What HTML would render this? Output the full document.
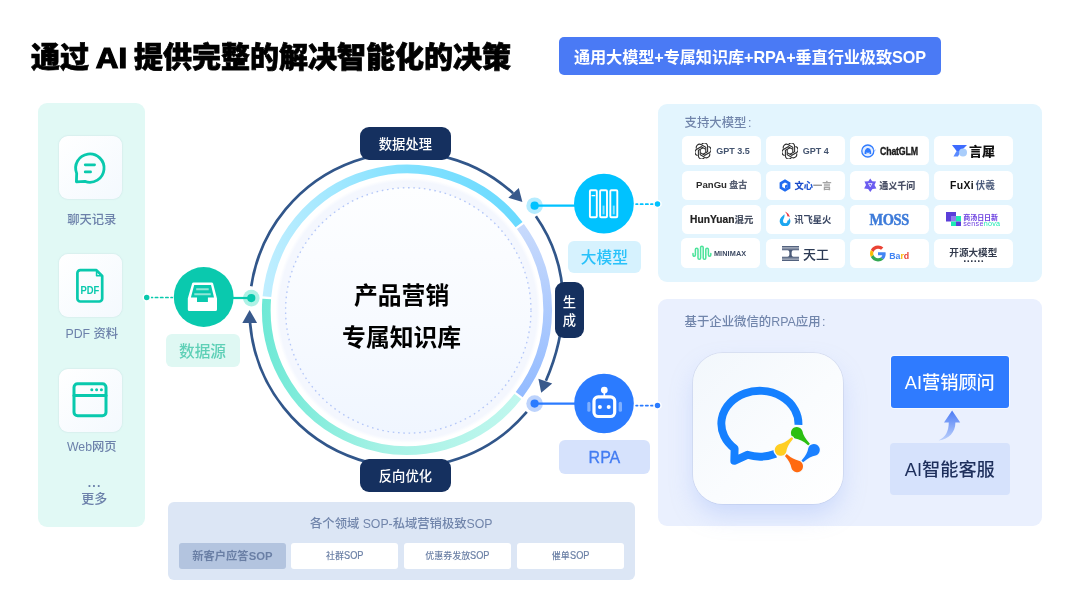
<!DOCTYPE html>
<html lang="zh-CN">
<head>
<meta charset="utf-8">
<title>通过 AI 提供完整的解决智能化的决策</title>
<style>
html,body{margin:0;padding:0;background:#fff;}
body{width:1080px;height:608px;position:relative;overflow:hidden;font-family:"Liberation Sans","Noto Sans CJK SC",sans-serif;color:#000;}
#stage{position:absolute;left:0;top:0;width:1080px;height:608px;overflow:hidden;background:#fff;will-change:transform;}
.abs{position:absolute;}
.c{display:flex;align-items:center;justify-content:center;white-space:nowrap;}
#title{left:31px;top:36.3px;height:44px;line-height:44px;font-size:29px;font-weight:900;white-space:nowrap;letter-spacing:0;-webkit-text-stroke:.75px #000;}
#pill{left:558.8px;top:37px;width:382.2px;height:38.1px;border-radius:5px;background:#4a7af5;color:#fff;font-size:16.2px;letter-spacing:-.1px;font-weight:700;padding-top:.6px;box-sizing:border-box;}
.panel{border-radius:9px;}
#left{left:37.8px;top:103.1px;width:107.2px;height:423.8px;background:#e1f9f5;}
.icard{left:58.7px;width:63.2px;height:63.4px;border-radius:9px;background:linear-gradient(135deg,#ffffff 0%,#f4f9fe 100%);box-shadow:0 0 1.5px rgba(120,140,170,.35);}
.ilab{left:38.5px;width:106.5px;height:16px;line-height:16px;text-align:center;font-size:12.3px;font-weight:500;color:#6c81aa;white-space:nowrap;}
#models{left:658.3px;top:103.7px;width:383.6px;height:178px;background:#e3f5fe;}
#rpa{left:658.3px;top:299px;width:383.6px;height:227.3px;background:#eaf0fe;}
.plab{font-size:12.4px;font-weight:500;color:#7185ab;height:18px;line-height:18px;white-space:nowrap;}
.mc{width:78.8px;height:29.4px;border-radius:5.5px;background:#fff;font-size:9px;font-weight:700;color:#333;}
#sop{left:168px;top:502px;width:466.5px;height:78px;border-radius:6px;background:#dce6f5;}
.sc{top:543px;width:106.7px;height:26px;padding-bottom:1.4px;box-sizing:border-box;border-radius:3px;background:#fff;font-size:9px;font-weight:500;color:#6a7fa5;}
.navy{background:#15305f;color:#fff;font-size:13.3px;border-radius:9px;font-weight:500;}
.tag{border-radius:6px;font-size:15.7px;font-weight:500;}
</style>
</head>
<body>
<div id="stage">
<div id="title" class="abs">通过 <span style="display:inline-block;transform:scaleX(1.08);-webkit-text-stroke:1.2px #000">AI</span> 提供完整的解决智能化的决策</div>
<div id="pill" class="abs c">通用大模型+专属知识库+RPA+垂直行业极致SOP</div>

<!-- left panel -->
<div id="left" class="abs panel"></div>
<div class="abs icard" style="top:135.6px"></div>
<div class="abs ilab" style="top:211.8px">聊天记录</div>
<div class="abs icard" style="top:253.6px"></div>
<div class="abs ilab" style="top:325.5px">PDF 资料</div>
<div class="abs icard" style="top:368.6px"></div>
<div class="abs ilab" style="top:438.7px">Web网页</div>
<div class="abs ilab" style="top:474.6px;left:41.4px;letter-spacing:1.2px;font-weight:700">...</div>
<div class="abs ilab" style="top:491px;left:40.9px;font-size:13px">更多</div>

<!-- models panel -->
<div id="models" class="abs panel"></div>
<div class="abs plab" style="left:684.5px;top:113.5px">支持大模型<span style="margin-left:1.5px">:</span></div>

<!-- model cards -->
<div class="abs c mc" style="left:682.3px;top:136.0px"><svg width="16" height="16" viewBox="-8 -8 16 16"><g fill="none" stroke="#2b2b2b" stroke-width="1.05"><g id="oa"><path d="M-1.2 -6.9 A3.3 3.3 0 0 1 4.6 -5 L4.6 0.6 L0 3.2"/></g><use href="#oa" transform="rotate(60)"/><use href="#oa" transform="rotate(120)"/><use href="#oa" transform="rotate(180)"/><use href="#oa" transform="rotate(240)"/><use href="#oa" transform="rotate(300)"/></g></svg><span style="margin-left:5px;margin-right:-1.5px;color:#44546f;font-size:9px">GPT 3.5</span></div>
<div class="abs c mc" style="left:766.1px;top:136.0px"><svg width="16" height="16" viewBox="-8 -8 16 16"><g fill="none" stroke="#2b2b2b" stroke-width="1.05"><g id="ob"><path d="M-1.2 -6.9 A3.3 3.3 0 0 1 4.6 -5 L4.6 0.6 L0 3.2"/></g><use href="#ob" transform="rotate(60)"/><use href="#ob" transform="rotate(120)"/><use href="#ob" transform="rotate(180)"/><use href="#ob" transform="rotate(240)"/><use href="#ob" transform="rotate(300)"/></g></svg><span style="margin-left:4.5px;color:#44546f;font-size:9px">GPT 4</span></div>
<div class="abs c mc" style="left:850.3px;top:136.0px"><svg width="15" height="14" viewBox="0 0 15 14" style="margin-left:-1px;margin-top:.6px"><circle cx="6.8" cy="7" r="6" fill="#e3edff" stroke="#2f7bff" stroke-width="1.3"/><path d="M3.6 10 C3.4 6.4 4.8 4 7 4 C9.2 4 10.4 6 10.2 10 H8.6 L8.2 8 L7 9.4 L5.8 8 L5.4 10 Z" fill="#2f7bff"/><path d="M12.6 5.6 l.9 1.5 l1-1.5" fill="none" stroke="#8fb6ff" stroke-width="0.8"/></svg><span style="margin-left:4px;margin-top:1.6px;color:#1d1d1d;font-size:10px;letter-spacing:-0.2px;-webkit-text-stroke:.35px #1d1d1d;transform:scaleX(.88);transform-origin:left center;display:inline-block;margin-right:-5px">ChatGLM</span></div>
<div class="abs c mc" style="left:933.9px;top:136.0px"><svg width="16" height="12" viewBox="0 0 16 12"><path d="M0 0 H15 L9 6 L4.6 6 Z" fill="#3d6bff"/><path d="M4.6 6 L9 6 L6 11.5 H1.5 Z" fill="#5b8bff"/><circle cx="11" cy="7.6" r="4" fill="#a9cdfb"/></svg><span style="margin-left:1.5px;margin-top:-1.4px;color:#111;font-size:13px;font-weight:900">言犀</span></div>
<div class="abs c mc" style="left:682.3px;top:170.5px"><span style="color:#2b2b2b;font-size:9.6px;margin-top:-1.4px">PanGu</span><span style="margin-left:2.4px;margin-top:-1.4px;color:#5a6275;font-size:9px;font-weight:900">盘古</span></div>
<div class="abs c mc" style="left:766.1px;top:170.5px"><svg width="12" height="13" viewBox="0 0 12 13"><path d="M6 0.3 L11.4 3.4 V9.6 L6 12.7 L0.6 9.6 V3.4 Z" fill="#1f6bf0"/><path d="M6 3.4 L8.8 5 V8 L6 9.6 L3.2 8 V5 Z" fill="#fff"/><path d="M6 6.5 L8.8 5 V8 L6 9.6 Z" fill="#1f6bf0"/></svg><span style="margin-left:3px;font-size:9.3px;font-weight:900;background:linear-gradient(90deg,#1746c4 0%,#1f57d6 48%,#9a9a9a 52%,#a8a8a8 100%);-webkit-background-clip:text;background-clip:text;color:transparent">文心一言</span></div>
<div class="abs c mc" style="left:850.3px;top:170.5px"><svg width="14.5" height="14.5" viewBox="0 0 13 13" style="margin-left:-1.5px"><path d="M6.5 0.5 L8.2 3 L11.7 3.2 L10.3 6.3 L12 9.4 L8.5 9.8 L6.5 12.5 L4.6 9.8 L1 9.4 L2.7 6.3 L1.3 3.2 L4.8 3 Z" fill="#6b5cf0"/><path d="M4.4 4.6 H8.6 L6.5 8.4 Z" fill="#fff"/><path d="M5.5 5.3 H7.5 L6.5 7.1 Z" fill="#6b5cf0"/></svg><span style="margin-left:2px;color:#4a5066;font-size:9px;font-weight:900">通义千问</span></div>
<div class="abs c mc" style="left:933.9px;top:170.5px"><span style="color:#111;font-size:10.4px;letter-spacing:.35px;margin-left:-1.5px">FuXi</span><span style="margin-left:1.6px;color:#4a5a7a;font-size:9.7px;font-weight:700">伏羲</span></div>
<div class="abs c mc" style="left:682.3px;top:204.6px"><span style="color:#222;font-size:10.2px;letter-spacing:.05px;-webkit-text-stroke:.2px #222">HunYuan</span><span style="color:#4d5566;font-size:9.4px;font-weight:900">混元</span></div>
<div class="abs c mc" style="left:766.1px;top:204.6px"><svg width="12.5" height="15.5" viewBox="0 0 12 15" style="margin-top:-1.5px;margin-left:-1px"><path d="M5.2 3.2 C2.6 5.4 0.6 7.4 0.6 9.8 A5.2 5.2 0 0 0 11 9.8 C11 8.6 10.6 7.8 9.6 6.8 C9.8 8.6 8.8 9.6 7.8 9.4 C8.4 10.6 7.6 11.8 6 11.8 A2.2 2.2 0 0 1 3.8 9.6 C3.8 7.6 5.8 6.4 5.2 3.2 Z" fill="#1ca6f0"/><path d="M5.6 0.4 C8.2 1.4 10.4 3.6 10.2 6 C9.4 5.2 8.6 5 8 5.4 C8.2 3.6 7.2 1.8 5.6 0.4 Z" fill="#e8333c"/></svg><span style="margin-left:3px;color:#3a4763;font-size:9.3px;font-weight:700">讯飞星火</span></div>
<div class="abs c mc" style="left:850.3px;top:204.6px"><span style="color:#3d7bd9;font-size:15.5px;font-weight:700;letter-spacing:-.4px;font-family:'Liberation Serif','Liberation Sans',serif;-webkit-text-stroke:.5px #3d7bd9;transform:scale(.93,1.04);display:inline-block;margin-top:2px;margin-left:-1.4px">MOSS</span></div>
<div class="abs c mc" style="left:933.9px;top:204.6px"><svg width="15" height="14" viewBox="0 0 15 14"><path d="M0 0 H10 V4 H5 V9.5 H0 Z" fill="#5b3fd9"/><rect x="5" y="4" width="5" height="5.5" fill="#8f7df0"/><rect x="10" y="4" width="5" height="5.5" fill="#1eebb4"/><rect x="5" y="9.5" width="5" height="4.5" fill="#1eebb4"/><rect x="10" y="9.5" width="5" height="4.5" fill="#5b3fd9"/></svg><span style="margin-left:2px;margin-top:3.6px;display:inline-flex;flex-direction:column;line-height:6.4px;font-weight:400"><span style="color:#6a3fe0;font-size:7px;font-weight:700;letter-spacing:-.05px">商汤日日新</span><span style="color:#6a3fe0;font-size:7.2px;letter-spacing:.25px;margin-top:.3px">sense<span style="color:#1eebb4">nova</span></span></span></div>
<div class="abs c mc" style="left:681.4px;top:238px;height:30px"><svg width="20" height="16" viewBox="0 0 20 16"><g fill="none" stroke="#4be39a" stroke-width="1.5" stroke-linecap="round" stroke-linejoin="round"><path d="M1 8.5 V10 a1.2 1.2 0 0 0 2.4 0 V4.5 a1.3 1.3 0 0 1 2.6 0 V13 a1.3 1.3 0 0 0 2.6 0 V2.6 a1.3 1.3 0 0 1 2.6 0 V13 a1.3 1.3 0 0 0 2.6 0 V4.5 a1.3 1.3 0 0 1 2.6 0 V10 a1.2 1.2 0 0 0 2.4 0 V8.5"/></g></svg><span style="margin-left:2px;margin-right:3.4px;color:#3d4a63;font-size:7.3px;letter-spacing:.1px">MINIMAX</span></div>
<div class="abs c mc" style="left:766.1px;top:238.7px"><svg width="17" height="15" viewBox="0 0 17 15"><g fill="#4a5a78"><path d="M0 0 H17 V4.2 H11.5 C10 4.2 9.6 5.4 9.6 7.5 C9.6 9.6 10 10.8 11.5 10.8 H17 V15 H0 V10.8 H5.5 C7 10.8 7.4 9.6 7.4 7.5 C7.4 5.4 7 4.2 5.5 4.2 H0 Z"/></g><g stroke="#fff" stroke-width=".5" fill="none"><path d="M0 1.4 H17 M0 2.8 H17 M0 12.2 H17 M0 13.6 H17"/></g></svg><span style="margin-left:4px;color:#2d3b55;font-size:13px;font-weight:500">天工</span></div>
<div class="abs c mc" style="left:850.3px;top:238.7px"><svg width="16" height="17" viewBox="0 0 48 48"><path fill="#ea4335" d="M24 9.5c3.54 0 6.71 1.22 9.21 3.6l6.85-6.85C35.9 2.38 30.47 0 24 0 14.62 0 6.51 5.38 2.56 13.22l7.98 6.19C12.43 13.72 17.74 9.5 24 9.5z"/><path fill="#4285f4" d="M46.98 24.55c0-1.57-.15-3.09-.38-4.55H24v9.02h12.94c-.58 2.96-2.26 5.48-4.78 7.18l7.73 6c4.51-4.18 7.09-10.36 7.09-17.65z"/><path fill="#fbbc05" d="M10.53 28.59c-.48-1.45-.76-2.99-.76-4.59s.27-3.14.76-4.59l-7.98-6.19C.92 16.46 0 20.12 0 24c0 3.88.92 7.54 2.56 10.78l7.97-6.19z"/><path fill="#34a853" d="M24 48c6.48 0 11.93-2.13 15.89-5.81l-7.73-6c-2.15 1.45-4.92 2.3-8.16 2.3-6.26 0-11.57-4.22-13.47-9.91l-7.98 6.19C6.51 42.62 14.62 48 24 48z"/></svg><span style="margin-left:3px;font-size:8.8px;margin-top:5px"><span style="color:#4285f4">B</span><span style="color:#4285f4">a</span><span style="color:#fbbc05">r</span><span style="color:#ea4335">d</span></span></div>
<div class="abs c mc" style="left:933.9px;top:238.7px"><span style="display:inline-flex;flex-direction:column;align-items:center;line-height:11px;margin-top:1.6px"><span style="color:#333b4d;font-size:9.6px">开源大模型</span><span style="color:#333b4d;font-size:11px;line-height:5px;height:5px;letter-spacing:.45px;margin-top:-2.6px;margin-left:1px;font-weight:700">......</span></span></div>

<!-- rpa panel -->
<div id="rpa" class="abs panel"></div>
<div class="abs plab" style="left:684.5px;top:312.5px">基于企业微信的RPA应用<span style="margin-left:1.5px">:</span></div>
<div class="abs" id="wecom" style="left:692.8px;top:352.5px;width:150.6px;height:151.2px;border-radius:30px;background:linear-gradient(135deg,#f2f7fc 0%,#fafcfe 55%,#ffffff 100%);box-shadow:0 12px 24px -2px rgba(140,170,245,.34),0 0 0 .8px rgba(150,160,180,.22);"></div>
<div class="abs c" style="left:891px;top:356.3px;width:117.6px;height:51.5px;border-radius:3px;background:#2f7bff;color:#fff;font-size:18.2px;font-weight:500;padding-bottom:1.6px;box-sizing:border-box;box-shadow:0 0 0 1px rgba(255,255,255,.6)">AI营销顾问</div>
<div class="abs c" style="left:890px;top:442.6px;width:119.6px;height:52px;border-radius:4px;background:#d6e2fc;color:#1e2f5c;font-size:18.2px;font-weight:500;padding-bottom:1.6px;box-sizing:border-box;">AI智能客服</div>

<!-- sop panel -->
<div id="sop" class="abs"></div>
<div class="abs plab" style="left:168px;width:466.5px;top:515.4px;text-align:center;font-size:12.3px">各个领域 SOP-私域营销极致SOP</div>
<div class="abs c sc" style="left:179px;background:#b3c4df;font-weight:700;font-size:11.3px;color:#6a7fa5">新客户应答SOP</div>
<div class="abs c sc" style="left:291.4px">社群<span style="display:inline-block;font-size:10px;line-height:10px;transform:scaleX(.92);transform-origin:left center;margin-right:-1.7px;margin-top:1.4px;-webkit-text-stroke:.2px #6a7fa5">SOP</span></div>
<div class="abs c sc" style="left:404.1px">优惠券发放<span style="display:inline-block;font-size:10px;line-height:10px;transform:scaleX(.92);transform-origin:left center;margin-right:-1.7px;margin-top:1.4px;-webkit-text-stroke:.2px #6a7fa5">SOP</span></div>
<div class="abs c sc" style="left:517.1px">催单<span style="display:inline-block;font-size:10px;line-height:10px;transform:scaleX(.92);transform-origin:left center;margin-right:-1.7px;margin-top:1.4px;-webkit-text-stroke:.2px #6a7fa5">SOP</span></div>

<!-- diagram -->
<svg class="abs" style="left:0;top:0" width="1080" height="608" viewBox="0 0 1080 608">
  <defs>
    <linearGradient id="gC" gradientUnits="userSpaceOnUse" x1="262" y1="0" x2="520" y2="0"><stop offset="0" stop-color="#c0eeff"/><stop offset="0.56" stop-color="#82e1ff"/><stop offset="1" stop-color="#6adaff"/></linearGradient>
    <linearGradient id="gB" gradientUnits="userSpaceOnUse" x1="0" y1="225" x2="0" y2="396"><stop offset="0" stop-color="#c8dafc"/><stop offset="1" stop-color="#93bbff"/></linearGradient>
    <linearGradient id="gT" gradientUnits="userSpaceOnUse" x1="262" y1="0" x2="520" y2="0"><stop offset="0" stop-color="#6fe9d6"/><stop offset="0.5" stop-color="#a8f2e6"/><stop offset="1" stop-color="#c0f7ee"/></linearGradient>
    <radialGradient id="gDisc" gradientUnits="userSpaceOnUse" cx="408" cy="310.3" r="132.6"><stop offset="0" stop-color="#f4f7fe"/><stop offset="0.972" stop-color="#f4f7fe"/><stop offset="1" stop-color="#f4f7fe" stop-opacity="0"/></radialGradient>
    <linearGradient id="gIn" gradientUnits="userSpaceOnUse" x1="0" y1="188" x2="0" y2="433"><stop offset="0" stop-color="#fdfeff"/><stop offset="0.55" stop-color="#f7faff"/><stop offset="1" stop-color="#f0f6ff"/></linearGradient>
  </defs>
  <circle cx="408" cy="310.3" r="132.6" fill="url(#gDisc)"/>
  <circle cx="408.3" cy="310.4" r="122.7" fill="url(#gIn)" stroke="#b4c7f8" stroke-width="1.35" stroke-dasharray="1.6 3.7"/>
  <g fill="none" stroke-width="8.7">
    <path d="M266.92 296.56 A140.70 140.70 0 0 1 519.07 224.73" stroke="url(#gC)"/>
    <path d="M520.39 226.50 A140.70 140.70 0 0 1 519.22 394.67" stroke="url(#gB)"/>
    <path d="M517.87 396.42 A140.70 140.70 0 0 1 266.71 299.01" stroke="url(#gT)"/>
  </g>
  <g fill="none" stroke="#31568a" stroke-width="2.7">
    <path d="M251.26 286.21 A157.50 157.50 0 0 1 513.12 193.32"/>
    <path d="M535.9 216.3 C576.85 274.95 563.92 339.28 545.9 380.7"/>
    <path d="M526.80 411.94 A157.50 157.50 0 0 1 250.05 322.87"/>
  </g>
  <g fill="#38598c">
    <polygon points="522.4,201.9 518.8,188 508.3,197.8"/>
    <polygon points="541.2,392.8 538.4,378.7 552.2,383.4"/>
    <polygon points="249.6,310 242.3,322.9 257.1,322.9"/>
  </g>
  <!-- connectors -->
  <g stroke-width="2.2" fill="none">
    <line x1="172.3" y1="297.5" x2="151.5" y2="297.5" stroke="#09c9ad" stroke-width="1.7" stroke-linecap="round" stroke-dasharray="2.3 2.9" stroke-dashoffset="1"/>
    <line x1="653.2" y1="204.2" x2="636.1" y2="204.2" stroke="#00c2ff" stroke-width="1.7" stroke-linecap="round" stroke-dasharray="2.3 2.9"/>
    <line x1="653.2" y1="405.6" x2="636.1" y2="405.6" stroke="#2b7bff" stroke-width="1.7" stroke-linecap="round" stroke-dasharray="2.3 2.9"/>
  </g>
  <circle cx="146.7" cy="297.6" r="3.5" fill="#09c9ad" stroke="#fff" stroke-width="1.5"/>
  <circle cx="657.5" cy="204.1" r="3.5" fill="#00c2ff" stroke="#fff" stroke-width="1.5"/>
  <circle cx="657.5" cy="405.4" r="3.5" fill="#2b7bff" stroke="#fff" stroke-width="1.5"/>
  <!-- nodes -->
  <circle cx="251.3" cy="298.1" r="8.3" fill="#aef2e6"/><line x1="251.3" y1="298" x2="232" y2="298" stroke="#09c9ad" stroke-width="2.2"/><circle cx="251.3" cy="298.1" r="4.1" fill="#09c9ad"/>
  <circle cx="534.6" cy="205.7" r="8.3" fill="#b5ecff"/><line x1="534.6" y1="205.7" x2="576" y2="205.7" stroke="#00c2ff" stroke-width="2.2"/><circle cx="534.6" cy="205.7" r="4.1" fill="#00c2ff"/>
  <circle cx="534.6" cy="403.6" r="8.3" fill="#bdd3fc"/><line x1="534.6" y1="403.6" x2="576" y2="403.6" stroke="#2b7bff" stroke-width="2.2"/><circle cx="534.6" cy="403.6" r="4.1" fill="#2b7bff"/>
  <!-- big circles -->
  <circle cx="203.7" cy="297" r="29.9" fill="#0ac9ae"/>
  <circle cx="603.9" cy="203.7" r="29.9" fill="#00c2ff"/>
  <circle cx="604" cy="403.5" r="29.8" fill="#2b7bff"/>

  <!-- left card icons -->
  <g fill="none" stroke="#09c9ad" stroke-width="2.9" stroke-linecap="round" stroke-linejoin="round">
    <path d="M76.4 181.8 L76.68 173.42 A14.2 14.2 0 1 1 84.99 181.44 Z" stroke-width="2.8"/>
    <path d="M85.2 164.8 H94.6 M85.2 171.9 H90.6" stroke-width="2.7"/>
    <path d="M80.3 270.1 H96.4 L102.2 276 V298.6 A2.9 2.9 0 0 1 99.3 301.5 H80.3 A2.9 2.9 0 0 1 77.4 298.6 V273 A2.9 2.9 0 0 1 80.3 270.1 Z" stroke-width="2.7"/>
    <path d="M96.6 271 V275.8 H101.4" stroke-width="1.6"/>
    <rect x="74" y="383.7" width="32" height="32.1" rx="3.6" stroke-width="3"/>
    <path d="M74 395.6 H106" stroke-width="3"/>
  </g>
  <g fill="#09c9ad"><circle cx="91.8" cy="389.8" r="1.5"/><circle cx="96.6" cy="389.8" r="1.5"/><circle cx="101.4" cy="389.8" r="1.5"/></g>
  <text transform="translate(89.9 294) scale(.8 1)" text-anchor="middle" font-family="Liberation Sans, sans-serif" font-weight="700" font-size="11.8" fill="#09c9ad">PDF</text>
  <!-- inbox icon -->
  <path d="M193.6 282.4 H211.6 A1.6 1.6 0 0 1 213.1 283.6 L217 298.4 V309.4 A1.6 1.6 0 0 1 215.4 311 H189.4 A1.6 1.6 0 0 1 187.8 309.4 V298.4 L192.1 283.6 A1.6 1.6 0 0 1 193.6 282.4 Z M194.2 285.1 L190.9 297.6 H197 V301.9 H207.9 V297.6 H214 L211 285.1 Z" fill="#fff" fill-rule="evenodd"/>
  <path d="M196.2 289.2 H208.7 M194.3 294.3 H210.7" stroke="#8fe5d6" stroke-width="2" fill="none"/>
  <!-- bars icon -->
  <g fill="none" stroke="#fff" stroke-width="1.9">
    <rect x="589.9" y="190.3" width="6.9" height="27" rx="1"/>
    <rect x="600.1" y="190.3" width="6.9" height="27" rx="1"/>
    <rect x="610.3" y="190.3" width="7" height="27" rx="1"/>
    <path d="M591.5 195.6 H595.3" stroke-width="1.3"/>
  </g>
  <g fill="#8fe2ff"><rect x="602.6" y="205.6" width="1.9" height="8.8"/><rect x="612.8" y="205.6" width="1.9" height="8.8"/></g>
  <!-- robot icon -->
  <rect x="594" y="396.8" width="20.7" height="19.7" rx="4.2" fill="none" stroke="#fff" stroke-width="3.2"/>
  <circle cx="599.9" cy="406.9" r="2" fill="#fff"/><circle cx="608.7" cy="406.9" r="2" fill="#fff"/>
  <circle cx="604.3" cy="390.1" r="3.4" fill="#fff"/><rect x="603.5" y="392" width="1.6" height="4" fill="#fff"/>
  <rect x="587.3" y="401.8" width="3.2" height="10" rx="1.6" fill="#7fb0ff"/><rect x="618.7" y="401.8" width="3.3" height="10" rx="1.6" fill="#7fb0ff"/>
  <!-- wecom logo -->
  <path d="M798.43 424.85 A38.55 32.90 0 1 0 734.61 448.53 L734.3 460.8 L747.35 454.81 A38.55 32.90 0 0 0 775.58 453.76" fill="none" stroke="#1580ff" stroke-width="7.9" stroke-linejoin="round"/>
  <g stroke="#f8fbfe" stroke-width="2.6" stroke-linejoin="round" paint-order="stroke">
    <path d="M795.22 438.59 Q800.88 439.24 807.74 445.01 A1.25 1.25 0 0 0 809.46 443.19 Q803.34 436.64 802.40 431.03 A5.90 5.90 0 1 0 795.22 438.59 Z" fill="#2bbf12"/>
    <path d="M808.26 448.18 Q807.55 453.72 801.72 460.32 A1.25 1.25 0 0 0 803.48 462.08 Q810.08 456.25 815.62 455.54 A5.90 5.90 0 1 0 808.26 448.18 Z" fill="#1a80ff"/>
    <path d="M798.82 460.66 Q793.28 459.95 786.68 454.12 A1.25 1.25 0 0 0 784.92 455.88 Q790.75 462.48 791.46 468.02 A5.90 5.90 0 1 0 798.82 460.66 Z" fill="#ff6a10"/>
    <path d="M786.36 451.55 Q786.93 446.06 792.60 439.47 A1.25 1.25 0 0 0 790.80 437.73 Q784.37 443.57 778.90 444.28 A5.90 5.90 0 1 0 786.36 451.55 Z" fill="#ffce22"/>
  </g>
  <!-- up arrow -->
  <defs><linearGradient id="gA" x1="0" y1="0" x2="0" y2="1"><stop offset="0" stop-color="#4b7bf5"/><stop offset="1" stop-color="#bcd0fb"/></linearGradient></defs>
  <path d="M952.1 410.5 L960.2 422.6 H955.4 C955.4 432 949 439.6 938.6 440.4 C945.6 437.4 948.6 431.6 948.8 422.6 H944 Z" fill="url(#gA)"/>
</svg>

<div class="abs c navy" style="left:359.9px;top:127.4px;width:91px;height:32.9px;padding-bottom:1px;box-sizing:border-box;">数据处理</div>
<div class="abs c navy" style="left:359.9px;top:459.4px;width:91px;height:32.9px;">反向优化</div>
<div class="abs c navy" style="left:555px;top:282px;width:28.9px;height:56px;border-radius:9px;flex-direction:column;line-height:18px;padding-top:3px;box-sizing:border-box;"><span>生</span><span>成</span></div>

<div class="abs c tag" style="left:165.5px;top:333.6px;width:74px;height:33.7px;background:#dff8f3;color:#5fd0b7;">数据源</div>
<div class="abs c tag" style="left:567.5px;top:240.8px;width:73.7px;height:32.7px;background:#d6f2fe;color:#29c2fa;padding-bottom:.6px;box-sizing:border-box;">大模型</div>
<div class="abs c tag" style="left:559.2px;top:440px;width:90.5px;height:33.5px;background:#d6e2fc;color:#437cf2;font-size:16px;-webkit-text-stroke:.3px #437cf2;padding-top:1.6px;box-sizing:border-box;">RPA</div>

<div class="abs c" style="left:301.6px;top:272.7px;width:200px;height:42px;font-size:23.8px;font-weight:700;">产品营销</div>
<div class="abs c" style="left:301.6px;top:314.7px;width:200px;height:42px;font-size:23.8px;font-weight:700;">专属知识库</div>
</div>
</body>
</html>
